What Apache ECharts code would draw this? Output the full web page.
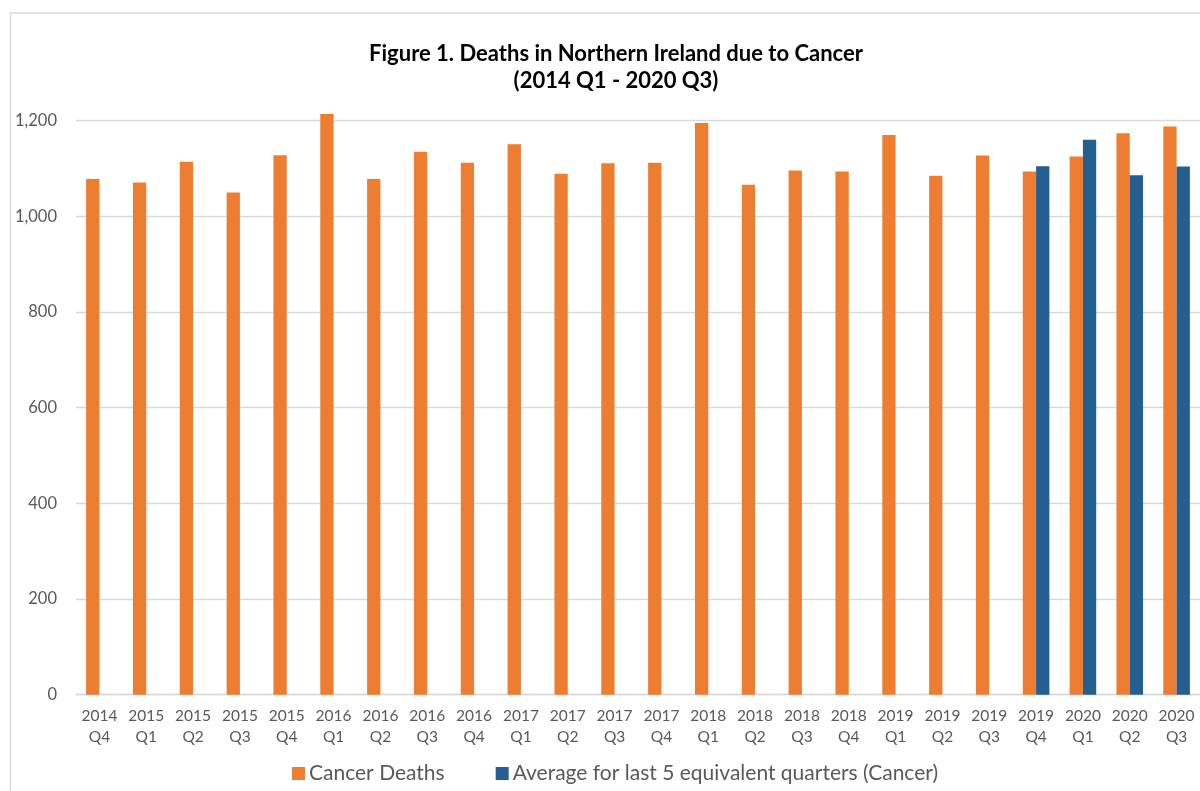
<!DOCTYPE html>
<html>
<head>
<meta charset="utf-8">
<script src="https://cdn.jsdelivr.net/npm/echarts@6/dist/echarts.min.js"></script>
<style>
  html, body { margin: 0; padding: 0; background: #fff; }
  #main { width: 1200px; height: 791px; }
</style>
</head>
<body>
<div id="main"></div>
<script>
var quarters = ['2014\nQ4', '2015\nQ1', '2015\nQ2', '2015\nQ3', '2015\nQ4', '2016\nQ1',
  '2016\nQ2', '2016\nQ3', '2016\nQ4', '2017\nQ1', '2017\nQ2', '2017\nQ3', '2017\nQ4',
  '2018\nQ1', '2018\nQ2', '2018\nQ3', '2018\nQ4', '2019\nQ1', '2019\nQ2', '2019\nQ3',
  '2019\nQ4', '2020\nQ1', '2020\nQ2', '2020\nQ3']

var cancerDeaths = [1078, 1071, 1114, 1050, 1128, 1214, 1078, 1135, 1112, 1151, 1089, 1111,
  1112, 1195, 1066, 1096, 1094, 1170, 1085, 1127, 1094, 1125, 1174, 1188]

var average5 = [null, null, null, null, null, null, null, null, null, null, null, null,
  null, null, null, null, null, null, null, null, 1105, 1160, 1086, 1104]

var yTicks = [0, 200, 400, 600, 800, 1000, 1200]

function main() {
  var myChart = echarts.init(document.getElementById('main'))
  var option = {
    backgroundColor: '#fff',
    animation: false,
    textStyle: { fontFamily: 'Lato' },
    graphic: [{
      type: 'rect',
      shape: { x: 10.5, y: 13, width: 1200, height: 800 },
      style: { fill: 'none', stroke: '#d9d9d9', lineWidth: 1.5 },
      silent: true
    }],
    title: {
      text: 'Figure 1. Deaths in Northern Ireland due to Cancer\n(2014 Q1 - 2020 Q3)',
      left: 611,
      textAlign: 'center',
      top: 35,
      textStyle: {
        fontFamily: 'Lato',
        fontWeight: 'bold',
        fontSize: 22,
        lineHeight: 27,
        color: '#000'
      }
    },
    legend: {
      left: 287,
      top: 758,
      itemWidth: 13,
      itemHeight: 13,
      itemGap: 51,
      icon: 'rect',
      textStyle: { fontSize: 21, color: '#595959', padding: [0, 0, 0, -1] },
      data: ['Cancer Deaths', 'Average for last 5 equivalent quarters (Cancer)']
    },
    grid: {
      left: 76,
      top: 120.7,
      width: 1128,
      bottom: 96.3
    },
    xAxis: {
      type: 'category',
      data: quarters,
      axisLine: { lineStyle: { color: '#d9d9d9', width: 1.3 } },
      axisTick: { show: false },
      axisLabel: {
        color: '#595959',
        fontSize: 15.5,
        lineHeight: 21,
        margin: 11,
        interval: 0
      }
    },
    yAxis: {
      type: 'value',
      min: yTicks[0],
      max: yTicks[yTicks.length - 1],
      interval: 200,
      axisLine: { show: false },
      axisTick: { show: false },
      splitLine: { lineStyle: { color: '#d9d9d9', width: 1.3 } },
      axisLabel: {
        color: '#595959',
        fontSize: 16.5,
        margin: 19,
        formatter: function (v) { return v.toLocaleString('en-GB') }
      }
    },
    series: [
      {
        name: 'Cancer Deaths',
        type: 'bar',
        data: cancerDeaths,
        barWidth: 13.3,
        barGap: '0%',
        clip: false,
        itemStyle: { color: '#ED7D31' }
      },
      {
        name: 'Average for last 5 equivalent quarters (Cancer)',
        type: 'bar',
        data: average5,
        barWidth: 13.3,
        barGap: '0%',
        clip: false,
        itemStyle: { color: '#255E91' }
      }
    ]
  }
  myChart.setOption(option)
}

window.onload = main
</script>
</body>
</html>
